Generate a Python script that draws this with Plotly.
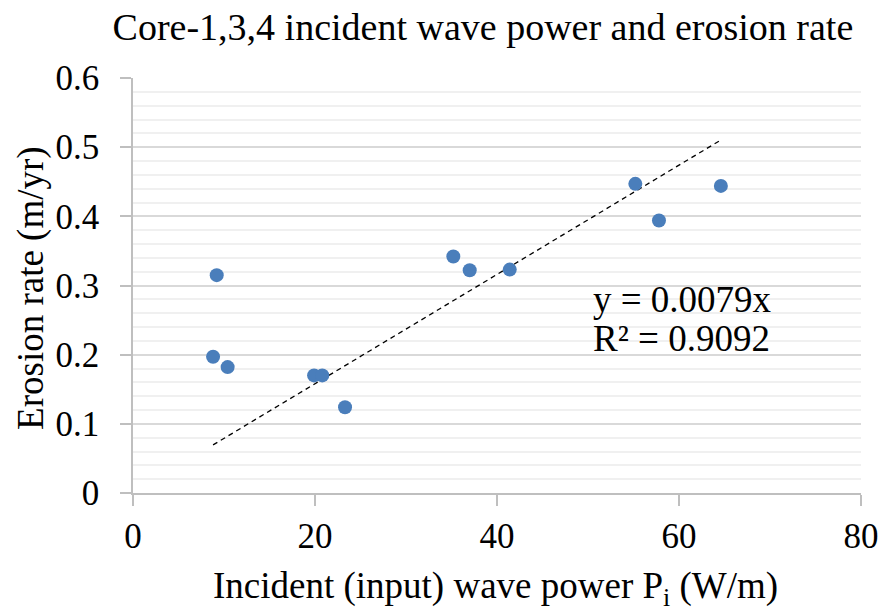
import plotly.graph_objects as go

power = [9.2, 8.8, 10.4, 19.9, 20.8, 23.3, 35.2, 37.0, 41.4, 55.2, 57.8, 64.6]
erosion = [0.315, 0.197, 0.182, 0.170, 0.170, 0.124, 0.342, 0.322, 0.323, 0.447, 0.394, 0.444]
slope = 0.0079
r2 = 0.9092
x_ticks = [0, 20, 40, 60, 80]
y_ticks = [0, 0.1, 0.2, 0.3, 0.4, 0.5, 0.6]
y_tick_text = ["0", "0.1", "0.2", "0.3", "0.4", "0.5", "0.6"]

FONT = "Liberation Serif, Times New Roman, serif"
TICK_SIZE = 35
TITLE_SIZE = 37

xmin, xmax = min(power), max(power)
trend_x = [xmin, xmax]
trend_y = [slope * v for v in trend_x]

fig = go.Figure()
fig.add_trace(go.Scatter(
    x=trend_x, y=trend_y, mode="lines",
    line=dict(color="black", width=1.3, dash="5px,4px"),
    showlegend=False, hoverinfo="skip"))
fig.add_trace(go.Scatter(
    x=power, y=erosion, mode="markers",
    marker=dict(color="#4a7ebb", size=14, line=dict(width=0)),
    showlegend=False))

fig.add_annotation(
    x=50.3, y=0.280, xref="x", yref="y", xanchor="left", yanchor="middle",
    text=f"y = {slope}x", showarrow=False,
    font=dict(family=FONT, size=TITLE_SIZE, color="black"))
fig.add_annotation(
    x=50.3, y=0.224, xref="x", yref="y", xanchor="left", yanchor="middle",
    text=f"R² = {r2}", showarrow=False,
    font=dict(family=FONT, size=TITLE_SIZE, color="black"))

# axis titles
fig.add_annotation(
    x=0.498, y=-0.229, xref="paper", yref="paper", xanchor="center", yanchor="middle",
    text="Incident (input) wave power P<sub>i</sub> (W/m)", showarrow=False,
    font=dict(family=FONT, size=TITLE_SIZE, color="black"))
fig.add_annotation(
    x=-0.141, y=0.495, xref="paper", yref="paper", xanchor="center", yanchor="middle",
    text="Erosion rate (m/yr)", showarrow=False, textangle=-90,
    font=dict(family=FONT, size=TITLE_SIZE, color="black"))

fig.update_layout(
    width=891, height=611,
    paper_bgcolor="white", plot_bgcolor="white",
    margin=dict(l=133, r=21, t=78, b=118),
    title=dict(text="Core-1,3,4 incident wave power and erosion rate",
               x=0.542, xanchor="center", y=0.956, yanchor="middle",
               font=dict(family=FONT, size=38, color="black")),
    font=dict(family=FONT, size=TICK_SIZE, color="black"),
)
fig.update_xaxes(
    range=[0, 80], tickvals=x_ticks, showgrid=False, zeroline=False,
    showline=True, linecolor="#bfbfbf", linewidth=1.5,
    ticks="outside", ticklen=11, tickcolor="#bfbfbf", tickwidth=1.5,
    ticklabelstandoff=0,
    tickfont=dict(family=FONT, size=TICK_SIZE, color="black"))
fig.update_yaxes(
    range=[0, 0.6], tickvals=y_ticks, ticktext=y_tick_text,
    showgrid=True, gridcolor="#d9d9d9", gridwidth=1.5, zeroline=False,
    showline=True, linecolor="#bfbfbf", linewidth=1.5,
    ticks="outside", ticklen=11, tickcolor="#bfbfbf", tickwidth=1.5,
    ticklabelstandoff=14,
    minor=dict(dtick=0.02, showgrid=True, gridcolor="#f0f0f0", gridwidth=1.5, ticks=""),
    tickfont=dict(family=FONT, size=TICK_SIZE, color="black"))

fig.write_html("out.html")
